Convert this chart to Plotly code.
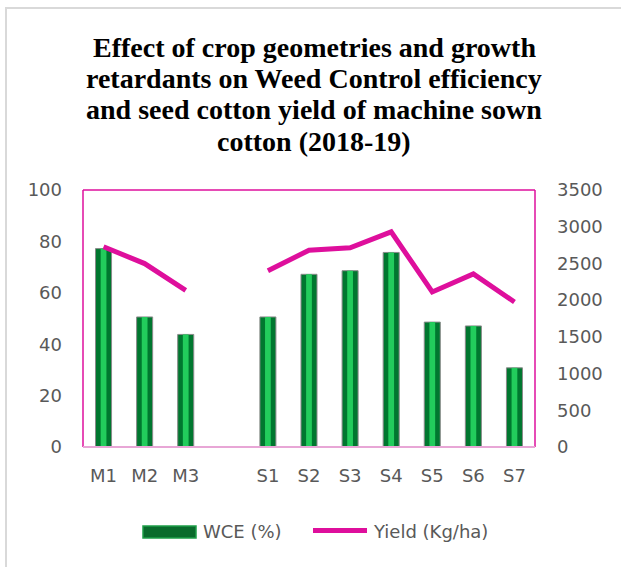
import plotly.graph_objects as go

categories = ["M1", "M2", "M3", " ", "S1", "S2", "S3", "S4", "S5", "S6", "S7"]
wce = [77.2, 50.6, 43.8, None, 50.6, 67.2, 68.6, 75.7, 48.6, 47.1, 30.8]
yield_kg = [2728, 2498, 2134, None, 2400, 2680, 2714, 2930, 2111, 2358, 1975]
left_ticks = [0, 20, 40, 60, 80, 100]
right_ticks = [0, 500, 1000, 1500, 2000, 2500, 3000, 3500]
title_lines = [
    "Effect of crop geometries and growth",
    "retardants on Weed Control efficiency",
    "and seed cotton yield of machine sown",
    "cotton (2018-19)",
]

W, H = 621, 567
L, R, T, B = 83, 86, 190, 120
PW, PH = W - L - R, H - T - B


def px(x):
    return (x - L) / PW


def py(y):
    return (H - B - y) / PH


MAG = "#DE0F9C"
TICKFONT = dict(family="DejaVu Sans", size=18, color="#595959")

fig = go.Figure()
fig.add_trace(go.Bar(
    x=categories, y=wce, width=0.39, name="WCE (%)",
    marker=dict(color="#00772F", line=dict(color="#8A8A8A", width=1)),
    showlegend=False,
))
fig.add_trace(go.Bar(
    x=categories, y=wce, width=0.14, name="WCE (%)",
    marker=dict(color="#22CC5C", line=dict(width=0)),
    showlegend=False, hoverinfo="skip",
))
fig.add_trace(go.Scatter(
    x=categories, y=yield_kg, yaxis="y2", mode="lines", name="Yield (Kg/ha)",
    line=dict(color=MAG, width=5), connectgaps=False, showlegend=False,
))

shapes = [
    # outer chart border
    dict(type="rect", xref="paper", yref="paper", x0=px(6), x1=px(660),
         y0=py(640), y1=py(8), line=dict(color="#D9D9D9", width=2),
         fillcolor="rgba(0,0,0,0)", layer="below"),
    # plot area frame
    dict(type="line", xref="paper", yref="paper", x0=0, x1=0, y0=0, y1=1,
         line=dict(color=MAG, width=1.5)),
    dict(type="line", xref="paper", yref="paper", x0=0, x1=1, y0=1, y1=1,
         line=dict(color=MAG, width=1.5)),
    dict(type="line", xref="paper", yref="paper", x0=1, x1=1, y0=0, y1=1,
         line=dict(color=MAG, width=1.5)),
    dict(type="line", xref="paper", yref="paper", x0=0, x1=1, y0=0, y1=0,
         line=dict(color="#E8A6D6", width=2)),
    # legend symbols
    dict(type="rect", xref="paper", yref="paper", x0=px(143), x1=px(196),
         y0=py(538), y1=py(526), fillcolor="#0A6B2C",
         line=dict(color="#1E9E48", width=1.5)),
    dict(type="line", xref="paper", yref="paper", x0=px(313), x1=px(367),
         y0=py(530.5), y1=py(530.5), line=dict(color=MAG, width=5)),
]

annotations = []
title_y = [47, 78, 109.5, 141]
for t, yy in zip(title_lines, title_y):
    annotations.append(dict(
        text="<b>" + t + "</b>", xref="paper", yref="paper", x=px(314), y=py(yy),
        xanchor="center", yanchor="middle", showarrow=False,
        font=dict(family="Liberation Serif", size=28, color="#000000"),
    ))
annotations.append(dict(text="WCE (%)", xref="paper", yref="paper", x=px(201), y=py(531),
                        xanchor="left", yanchor="middle", showarrow=False, font=TICKFONT))
annotations.append(dict(text="Yield (Kg/ha)", xref="paper", yref="paper", x=px(371), y=py(531),
                        xanchor="left", yanchor="middle", showarrow=False, font=TICKFONT))

fig.update_layout(
    width=W, height=H, autosize=False,
    margin=dict(l=L, r=R, t=T, b=B),
    paper_bgcolor="white", plot_bgcolor="white",
    barmode="overlay", showlegend=False,
    shapes=shapes, annotations=annotations,
    xaxis=dict(type="category", categoryorder="array", categoryarray=categories,
               range=[-0.5, 10.5], showgrid=False, zeroline=False, showline=False,
               ticks="", tickfont=TICKFONT, ticklabelstandoff=16),
    yaxis=dict(range=[0, 100], tickvals=left_ticks, showgrid=False, zeroline=False,
               showline=False, ticks="", tickfont=TICKFONT, ticklabelstandoff=20),
    yaxis2=dict(range=[0, 3500], tickvals=right_ticks, overlaying="y", side="right",
                showgrid=False, zeroline=False, showline=False, ticks="",
                tickfont=TICKFONT, ticklabelstandoff=21),
)

fig.write_html("out.html", config={"displayModeBar": False},
               post_script="document.body.style.margin='0';document.body.style.padding='0';")
